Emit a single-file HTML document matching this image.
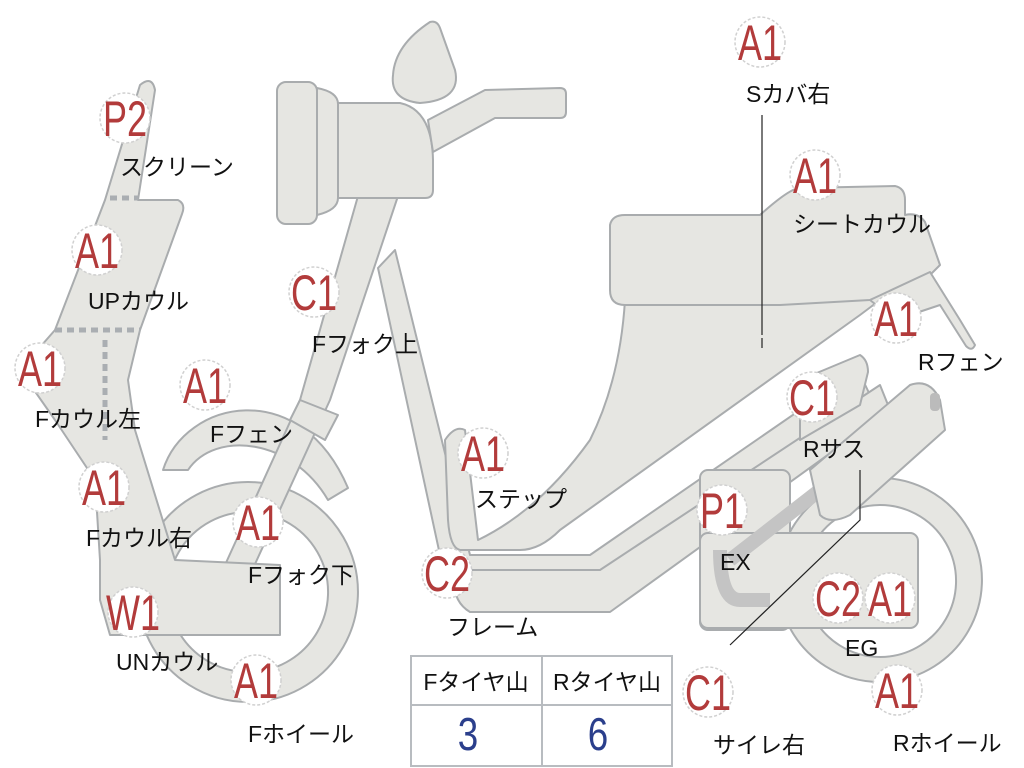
<!DOCTYPE html>
<html><head><meta charset="utf-8"><style>
html,body{margin:0;padding:0;background:#fff;width:1024px;height:768px;overflow:hidden}
svg{display:block}
.s{fill:#e6e6e2;stroke:#a9acae;stroke-width:2;stroke-linejoin:round}
.b circle{fill:#fff;stroke:#d0d0d0;stroke-width:1.5;stroke-dasharray:3 2}
.b text{fill:#b23b3b;font-family:"Liberation Sans",sans-serif;font-size:50px;text-anchor:middle}
.l{font-family:"Liberation Sans","Noto Sans CJK JP",sans-serif;font-size:23px;fill:#111}
</style></head><body>
<svg width="1024" height="768" viewBox="0 0 1024 768" xmlns="http://www.w3.org/2000/svg">
<!-- rear wheel -->
<path class="s" fill-rule="evenodd" d="M880,478 a102,102 0 1,1 -0.1,0 Z M880,505 a76,76 0 1,0 0.1,0 Z"/>
<!-- front wheel -->
<path class="s" fill-rule="evenodd" d="M248,482 a110,110 0 1,1 -0.1,0 Z M248,512 a80,80 0 1,0 0.1,0 Z"/>
<!-- front fender -->
<path class="s" d="M163,470 C185,400 300,375 348,488 L328,500 C292,438 215,430 188,470 Z"/>
<!-- fork -->
<path class="s" d="M358,196 L398,196 L330,400 L250,575 L225,565 L300,400 Z"/>
<path class="s" d="M300,400 L338,415 L325,440 L290,420 Z"/>
<!-- frame tube -->
<path class="s" d="M395,250 L378,268 L440,555 Q448,585 470,585 L600,585 L870,395 L858,370 L590,555 L470,555 Z"/>
<path class="s" d="M455,570 L600,570 L880,385 L890,410 L610,612 L470,612 Q450,600 455,570 Z"/>
<!-- cowl -->
<path class="s" d="M105,200 L140,85 Q152,75 155,90 L138,200 L178,200 Q186,204 182,214 L140,330 L128,380 L135,430 L175,560 L280,565 L280,635 L110,635 L100,600 L100,560 L95,480 L55,420 L20,370 L55,330 Z"/>
<path d="M110,198 H138 M55,330 H140 M105,340 V440" stroke="#aaaeb2" stroke-width="5" stroke-dasharray="7 5" fill="none"/>
<!-- headlight cluster -->
<rect class="s" x="277" y="82" width="40" height="142" rx="9"/>
<path class="s" d="M317,88 Q338,92 338,104 L338,198 Q338,210 317,215 Z"/>
<path class="s" d="M338,103 L400,103 Q432,110 433,160 L433,190 Q433,198 425,198 L338,198 Z"/>
<path class="s" d="M428,120 L485,90 L560,88 Q566,88 566,94 L566,112 Q566,118 560,118 L495,118 L433,152 Z"/>
<path class="s" d="M430,22 Q437,20 440,28 L455,70 Q462,100 420,103 Q390,100 393,75 Q395,45 430,22 Z"/>
<!-- body / seat -->
<path class="s" d="M625,300 L790,300 L880,255 L880,300 L860,315 L560,530 Q540,550 520,550 L460,550 Q450,548 448,520 L445,440 Q455,425 465,430 L478,540 Q540,510 590,440 Q620,380 625,300 Z"/>
<path class="s" d="M610,225 Q612,215 625,215 L760,215 Q790,188 800,188 L895,186 Q905,188 905,200 L905,215 Q918,212 925,222 L940,265 L930,275 L870,300 L780,305 L625,305 Q610,305 610,290 Z"/>
<path class="s" d="M870,300 L930,272 L960,320 L975,345 Q972,352 966,346 L940,305 L895,320 Z"/>
<!-- engine -->
<rect class="s" x="700" y="470" width="90" height="160" rx="8"/>
<rect class="s" x="700" y="533" width="218" height="95" rx="8"/>
<path d="M720,550 Q720,600 740,600 L770,600" stroke="#c4c4c4" stroke-width="14" fill="none"/>
<path d="M730,560 L820,490" stroke="#c4c4c4" stroke-width="14" fill="none"/>
<path class="s" d="M800,380 L860,355 Q868,360 868,372 L860,405 L800,440 Z"/>
<path class="s" d="M810,470 L910,385 Q930,378 940,400 L945,430 L850,515 Q830,525 820,515 Z"/>
<rect x="930" y="393" width="10" height="18" rx="4" fill="#bbb"/>
<path d="M762,115 V335 M762,338 V348" stroke="#222" stroke-width="1.2" fill="none"/>
<path d="M860,470 V520 L730,645" stroke="#222" stroke-width="1.2" fill="none"/>
<!-- table -->
<rect x="411" y="656" width="261" height="110" fill="#fff" stroke="#b8bcc0" stroke-width="2"/>
<path d="M411,705 H672 M542,656 V766" stroke="#b8bcc0" stroke-width="2"/>
<text class="l" x="476" y="690" text-anchor="middle">Fタイヤ山</text>
<text class="l" x="607" y="690" text-anchor="middle">Rタイヤ山</text>
<text x="468" y="750" font-family="Liberation Sans,sans-serif" font-size="46" fill="#2b3f8c" text-anchor="middle" transform="translate(468,0) scale(0.8,1) translate(-468,0)">3</text>
<text x="598" y="750" font-family="Liberation Sans,sans-serif" font-size="46" fill="#2b3f8c" text-anchor="middle" transform="translate(598,0) scale(0.8,1) translate(-598,0)">6</text>
<!-- badges -->
<g class="b" transform="translate(125,118)"><circle r="25"/><text transform="scale(0.72,1)" y="18">P2</text></g>
<g class="b" transform="translate(97,250)"><circle r="25"/><text transform="scale(0.72,1)" y="18">A1</text></g>
<g class="b" transform="translate(40,368)"><circle r="25"/><text transform="scale(0.72,1)" y="18">A1</text></g>
<g class="b" transform="translate(104,487)"><circle r="25"/><text transform="scale(0.72,1)" y="18">A1</text></g>
<g class="b" transform="translate(133,612)"><circle r="25"/><text transform="scale(0.72,1)" y="18">W1</text></g>
<g class="b" transform="translate(205,385)"><circle r="25"/><text transform="scale(0.72,1)" y="18">A1</text></g>
<g class="b" transform="translate(314,292)"><circle r="25"/><text transform="scale(0.72,1)" y="18">C1</text></g>
<g class="b" transform="translate(258,522)"><circle r="25"/><text transform="scale(0.72,1)" y="18">A1</text></g>
<g class="b" transform="translate(256,680)"><circle r="25"/><text transform="scale(0.72,1)" y="18">A1</text></g>
<g class="b" transform="translate(483,453)"><circle r="25"/><text transform="scale(0.72,1)" y="18">A1</text></g>
<g class="b" transform="translate(447,573)"><circle r="25"/><text transform="scale(0.72,1)" y="18">C2</text></g>
<g class="b" transform="translate(760,42)"><circle r="25"/><text transform="scale(0.72,1)" y="18">A1</text></g>
<g class="b" transform="translate(815,175)"><circle r="25"/><text transform="scale(0.72,1)" y="18">A1</text></g>
<g class="b" transform="translate(896,318)"><circle r="25"/><text transform="scale(0.72,1)" y="18">A1</text></g>
<g class="b" transform="translate(812,397)"><circle r="25"/><text transform="scale(0.72,1)" y="18">C1</text></g>
<g class="b" transform="translate(722,510)"><circle r="25"/><text transform="scale(0.72,1)" y="18">P1</text></g>
<g class="b" transform="translate(838,598)"><circle r="25"/><text transform="scale(0.72,1)" y="18">C2</text></g>
<g class="b" transform="translate(890,598)"><circle r="25"/><text transform="scale(0.72,1)" y="18">A1</text></g>
<g class="b" transform="translate(708,692)"><circle r="25"/><text transform="scale(0.72,1)" y="18">C1</text></g>
<g class="b" transform="translate(897,690)"><circle r="25"/><text transform="scale(0.72,1)" y="18">A1</text></g>
<!-- labels -->
<text class="l" x="120" y="175">スクリーン</text>
<text class="l" x="88" y="309">UPカウル</text>
<text class="l" x="35" y="427">Fカウル左</text>
<text class="l" x="86" y="546">Fカウル右</text>
<text class="l" x="116" y="670">UNカウル</text>
<text class="l" x="210" y="442">Fフェン</text>
<text class="l" x="312" y="352">Fフォク上</text>
<text class="l" x="248" y="583">Fフォク下</text>
<text class="l" x="248" y="742">Fホイール</text>
<text class="l" x="475" y="507">ステップ</text>
<text class="l" x="447" y="635">フレーム</text>
<text class="l" x="746" y="102">Sカバ右</text>
<text class="l" x="793" y="232">シートカウル</text>
<text class="l" x="918" y="370">Rフェン</text>
<text class="l" x="803" y="457">Rサス</text>
<text class="l" x="720" y="570">EX</text>
<text class="l" x="845" y="656">EG</text>
<text class="l" x="713" y="753">サイレ右</text>
<text class="l" x="893" y="751">Rホイール</text>
</svg>
</body></html>
